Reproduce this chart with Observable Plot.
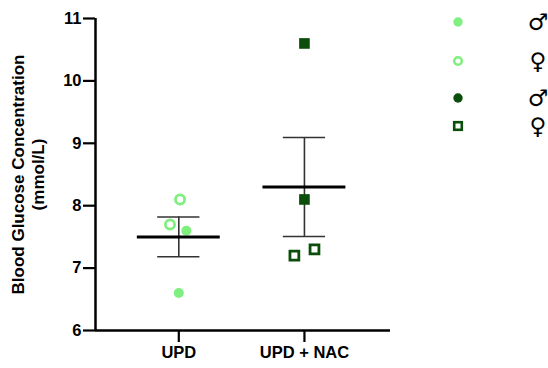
<!DOCTYPE html>
<html>
<head>
<meta charset="utf-8">
<script src="https://cdn.jsdelivr.net/npm/d3@7"></script>
<script src="https://cdn.jsdelivr.net/npm/@observablehq/plot@0.6"></script>
<style>
  body { margin: 0; background: #fff; }
  #wrap { position: relative; width: 548px; height: 368px; font-family: "Liberation Sans", Arial, sans-serif; }
  #legend { position: absolute; left: 0; top: 0; }
</style>
</head>
<body>
<div id="wrap"></div>
<script>
// ---- data ----
const groups = ["UPD", "UPD + NAC"];
const groupOf = ["UPD", "UPD", "UPD", "UPD", "UPD + NAC", "UPD + NAC", "UPD + NAC", "UPD + NAC"];
const sexOf = ["M", "M", "F", "F", "M", "M", "F", "F"];
const glucose = [7.6, 6.6, 8.1, 7.7, 10.6, 8.1, 7.2, 7.3];
const jitter = [0.06, 0.0, 0.01, -0.07, 0.0, 0.0, -0.08, 0.08];
const yTicks = [6, 7, 8, 9, 10, 11];
const legendSymbols = ["♂", "♀", "♂", "♀"];

const light = "#7ff07f";
const dark = "#0b4d0b";

const rows = glucose.map((v, i) => ({
  group: groupOf[i], sex: sexOf[i], value: v,
  x: groups.indexOf(groupOf[i]) + 1 + jitter[i]
}));
const stats = groups.map((g, i) => {
  const vals = rows.filter(r => r.group === g).map(r => r.value);
  const mean = d3.mean(vals);
  const sem = d3.deviation(vals) / Math.sqrt(vals.length);
  return {group: g, x: i + 1, mean, lo: mean - sem, hi: mean + sem};
});
const sel = (g, s) => rows.filter(r => r.group === g && r.sex === s);

const font = "Liberation Sans, Arial, sans-serif";
const chart = Plot.plot({
  width: 548, height: 368,
  marginLeft: 95, marginRight: 158, marginTop: 18, marginBottom: 38,
  style: {fontFamily: font, background: "white", color: "black"},
  x: {type: "linear", domain: [0.337, 2.685]},
  y: {domain: [6, 11]},
  marks: [
    Plot.axisY({ticks: yTicks, tickFormat: d => String(d), tickSize: 12, strokeWidth: 2.2, tickPadding: 2, fontSize: 16.5, fontWeight: "bold", label: null}),
    Plot.axisX({ticks: [1, 2], tickFormat: d => groups[d - 1], tickSize: 12, strokeWidth: 2.2, tickPadding: 4, fontSize: 16.5, fontWeight: "bold", label: null}),
    Plot.ruleX([0.337], {y1: 6, y2: 11, strokeWidth: 2.5, stroke: "black"}),
    Plot.ruleY([6], {x1: 0.337, x2: 2.685, strokeWidth: 2.5, stroke: "black"}),
    Plot.text(["Blood Glucose Concentration\n(mmol/L)"], {
      frameAnchor: "left", textAnchor: "middle", rotate: -90, dx: -68, fontSize: 17, fontWeight: "bold", lineHeight: 1.16, fill: "black"
    }),
    // error bars
    Plot.ruleX(stats, {x: "x", y1: "lo", y2: "hi", stroke: "#333", strokeWidth: 1.6}),
    Plot.ruleY(stats, {y: "hi", x1: d => d.x - 0.168, x2: d => d.x + 0.168, stroke: "#333", strokeWidth: 1.6}),
    Plot.ruleY(stats, {y: "lo", x1: d => d.x - 0.168, x2: d => d.x + 0.168, stroke: "#333", strokeWidth: 1.6}),
    // points
    Plot.dot(sel("UPD", "M"), {x: "x", y: "value", symbol: "circle", fill: light, r: 5}),
    Plot.dot(sel("UPD", "F"), {x: "x", y: "value", symbol: "circle", fill: "white", stroke: light, r: 4.6, strokeWidth: 2.8}),
    Plot.dot(sel("UPD + NAC", "M"), {x: "x", y: "value", symbol: "square", fill: dark, r: 6}),
    Plot.dot(sel("UPD + NAC", "F"), {x: "x", y: "value", symbol: "square", fill: "white", stroke: dark, r: 5, strokeWidth: 2.8}),
    // mean lines
    Plot.ruleY(stats, {y: "mean", x1: d => d.x - 0.33, x2: d => d.x + 0.33, stroke: "black", strokeWidth: 3})
  ]
});
document.getElementById("wrap").appendChild(chart);

// legend (outside plot area)
const legendShapes = [
  {shape: "circle", fill: light, stroke: "none"},
  {shape: "circle", fill: "white", stroke: light},
  {shape: "circle", fill: dark, stroke: "none"},
  {shape: "square", fill: "white", stroke: dark}
];
const legendY = [22, 61, 98, 126];
const lg = d3.select("#wrap").append("svg")
  .attr("id", "legend").attr("width", 548).attr("height", 368)
  .style("pointer-events", "none");
legendShapes.forEach((s, i) => {
  const y = legendY[i];
  if (s.shape === "circle") {
    lg.append("circle").attr("cx", 458).attr("cy", y)
      .attr("r", s.stroke === "none" ? 4.7 : 3.8)
      .attr("fill", s.fill).attr("stroke", s.stroke).attr("stroke-width", 2.6);
  } else {
    lg.append("rect").attr("x", 458 - 3.8).attr("y", y - 3.8).attr("width", 7.6).attr("height", 7.6)
      .attr("fill", s.fill).attr("stroke", s.stroke).attr("stroke-width", 2.6);
  }
  lg.append("text").attr("x", 538).attr("y", y).attr("dy", "0.36em")
    .attr("text-anchor", "middle").attr("font-size", 23)
    .attr("font-family", "DejaVu Sans, sans-serif").attr("fill", "black")
    .text(legendSymbols[i]);
});
</script>
</body>
</html>
